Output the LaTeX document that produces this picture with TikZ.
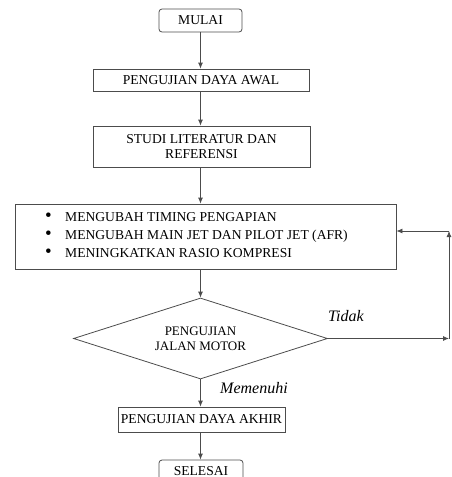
\documentclass[tikz,border=0pt]{standalone}
\usepackage{fontspec}
\setmainfont{Liberation Serif}
\usetikzlibrary{shapes.geometric,arrows.meta,positioning}
\tikzset{
  kotak/.style={draw=black!70, line width=0.8pt, minimum height=22pt, inner sep=2pt,
    font=\fontsize{13.6}{14.5}\selectfont, align=center},
  terminal/.style={kotak, rounded corners=3pt},
  keputusan/.style={draw=black!70, line width=0.8pt, diamond, aspect=3.1,
    minimum width=254pt, minimum height=81pt, inner sep=0pt,
    font=\fontsize{13}{15}\selectfont, align=center},
  panah/.style={draw=black!70, line width=0.8pt, -{Latex[length=6pt,width=5pt]}},
  ket/.style={font=\fontsize{16}{17}\selectfont\itshape}
}
\newcommand{\titik}{\makebox[20pt][l]{\raisebox{-0.5pt}{\fontsize{19}{19}\selectfont\textbullet}}}
\begin{document}
\begin{tikzpicture}[x=1pt,y=-1pt]
  \useasboundingbox (0,0) rectangle (452,477);
  % langkah-langkah
  \node[terminal, minimum width=83pt, minimum height=23pt] (mulai) at (200.5,20.5) {MULAI};
  \node[kotak, minimum width=216pt] (awal) at (201,80) {PENGUJIAN DAYA AWAL};
  \node[kotak, minimum width=217pt, minimum height=41pt] (studi) at (201.5,146.5) {STUDI LITERATUR DAN\\REFERENSI};
  \node[kotak, minimum width=381pt, minimum height=65pt] (ubah) at (205.5,236.5) {};
  \node[anchor=west, align=left, inner sep=0pt, font=\fontsize{13.6}{18}\selectfont] (daftar) at (45,235)
    {\titik MENGUBAH TIMING PENGAPIAN\\
     \titik MENGUBAH MAIN JET DAN PILOT JET (AFR)\\
     \titik MENINGKATKAN RASIO KOMPRESI};
  \node[keputusan] (uji) at (200.5,338.5) {PENGUJIAN\\JALAN MOTOR};
  \node[kotak, minimum width=167pt, minimum height=25pt] (akhir) at (201.5,419.5) {PENGUJIAN DAYA AKHIR};
  \node[terminal, minimum width=84pt, minimum height=22pt] (selesai) at (201,471) {SELESAI};
  % keterangan
  \node[ket] (tidak) at (346,316) {Tidak};
  \node[ket] (memenuhi) at (254,388) {Memenuhi};
  \coordinate (kanan) at (449,338.5);
  \coordinate (atas) at (449,231);
  % panah
  \draw[panah] (mulai.south) -- (mulai.south |- awal.north);
  \draw[panah] (mulai.south |- awal.south) -- (mulai.south |- studi.north);
  \draw[panah] (mulai.south |- studi.south) -- (mulai.south |- ubah.north);
  \draw[panah] (uji.north |- ubah.south) -- (uji.north);
  \draw[panah] (uji.south) -- (uji.south |- akhir.north);
  \draw[panah] (uji.south |- akhir.south) -- (uji.south |- selesai.north);
  \draw[panah] (uji.east) -- (kanan);
  \draw[panah] (kanan) -- (atas);
  \draw[panah] (atas) -- (atas -| ubah.east);
\end{tikzpicture}
\end{document}
